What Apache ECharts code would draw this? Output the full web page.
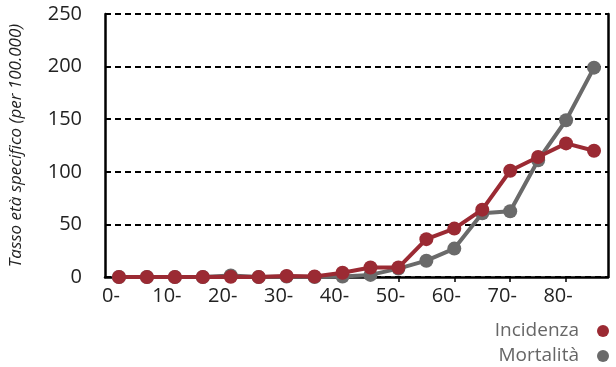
<!DOCTYPE html>
<html><head><meta charset="utf-8">
<script src="https://cdn.jsdelivr.net/npm/echarts@6/dist/echarts.min.js"></script>
<style>html,body{margin:0;padding:0;background:#fff}#c{width:616px;height:367px}</style>
</head><body><div id="c"></div>
<script>
const categories = ['0-','5-','10-','15-','20-','25-','30-','35-','40-','45-','50-','55-','60-','65-','70-','75-','80-','85-'];
const incidenza = [0,0,0,0,0.3,0,1,0.5,4,9,9,36,46,64,101,114,127,120];
const mortalita = [0,0,0,0,1.5,0,0.5,0,0.5,2,8,15.5,27,60.5,62.5,111,149,199];
const yTicks = [0,50,100,150,200,250];
const seriesNames = ['Incidenza','Mortalità'];
const yName = 'Tasso età specifico (per 100.000)';

const font = 'Open Sans';
const chart = echarts.init(document.getElementById('c'));
chart.setOption({
  animation:false,
  textStyle:{fontFamily:font},
  grid:{left:100,right:8,top:14,bottom:90,containLabel:false},
  legend:{
    data:[seriesNames[0],seriesNames[1]],
    orient:'vertical', right:7, top:321, align:'right', padding:0,
    icon:'circle', itemWidth:12, itemHeight:12, itemGap:5,
    textStyle:{fontFamily:font,fontSize:19,lineHeight:20,color:'#666',padding:[0,13,0,0]}
  },
  xAxis:{
    type:'category', data:categories, boundaryGap:true,
    axisLine:{lineStyle:{color:'#000',width:2.5}},
    axisTick:{show:true,alignWithLabel:true,interval:1,length:5,lineStyle:{color:'#000',width:1.5}},
    axisLabel:{interval:1,margin:9,fontSize:20,color:'#222',fontFamily:font,
      formatter:function(v){return '{a|'+v+'}{s| }';},
      rich:{a:{fontSize:20,color:'#222',fontFamily:font},s:{fontSize:20,width:16}}}
  },
  yAxis:[{
    type:'value', min:yTicks[0], max:yTicks[yTicks.length-1], interval:50,
    name:yName, nameLocation:'middle', nameGap:80,
    nameTextStyle:{fontStyle:'italic',fontSize:17,color:'#222',fontFamily:font},
    axisLine:{show:true,lineStyle:{color:'#000',width:2.5}},
    axisTick:{show:false},
    axisLabel:{margin:23,fontSize:20,color:'#222',fontFamily:font},
    splitLine:{show:true,lineStyle:{color:'#000',width:2,type:[6,4]}}
  },{
    type:'value', min:yTicks[0], max:yTicks[yTicks.length-1], interval:50, position:'right',
    axisLine:{show:true,lineStyle:{color:'#000',width:2.5}},
    axisTick:{show:false}, axisLabel:{show:false}, splitLine:{show:false}
  }],
  series:[
    {name:seriesNames[1],type:'line',data:mortalita,symbol:'circle',symbolSize:14,
     itemStyle:{color:'#6a6a6a'},lineStyle:{color:'#6a6a6a',width:4},z:2},
    {name:seriesNames[0],type:'line',data:incidenza,symbol:'circle',symbolSize:14,
     itemStyle:{color:'#9b2a33'},lineStyle:{color:'#9b2a33',width:4},z:3}
  ]
});
</script></body></html>
